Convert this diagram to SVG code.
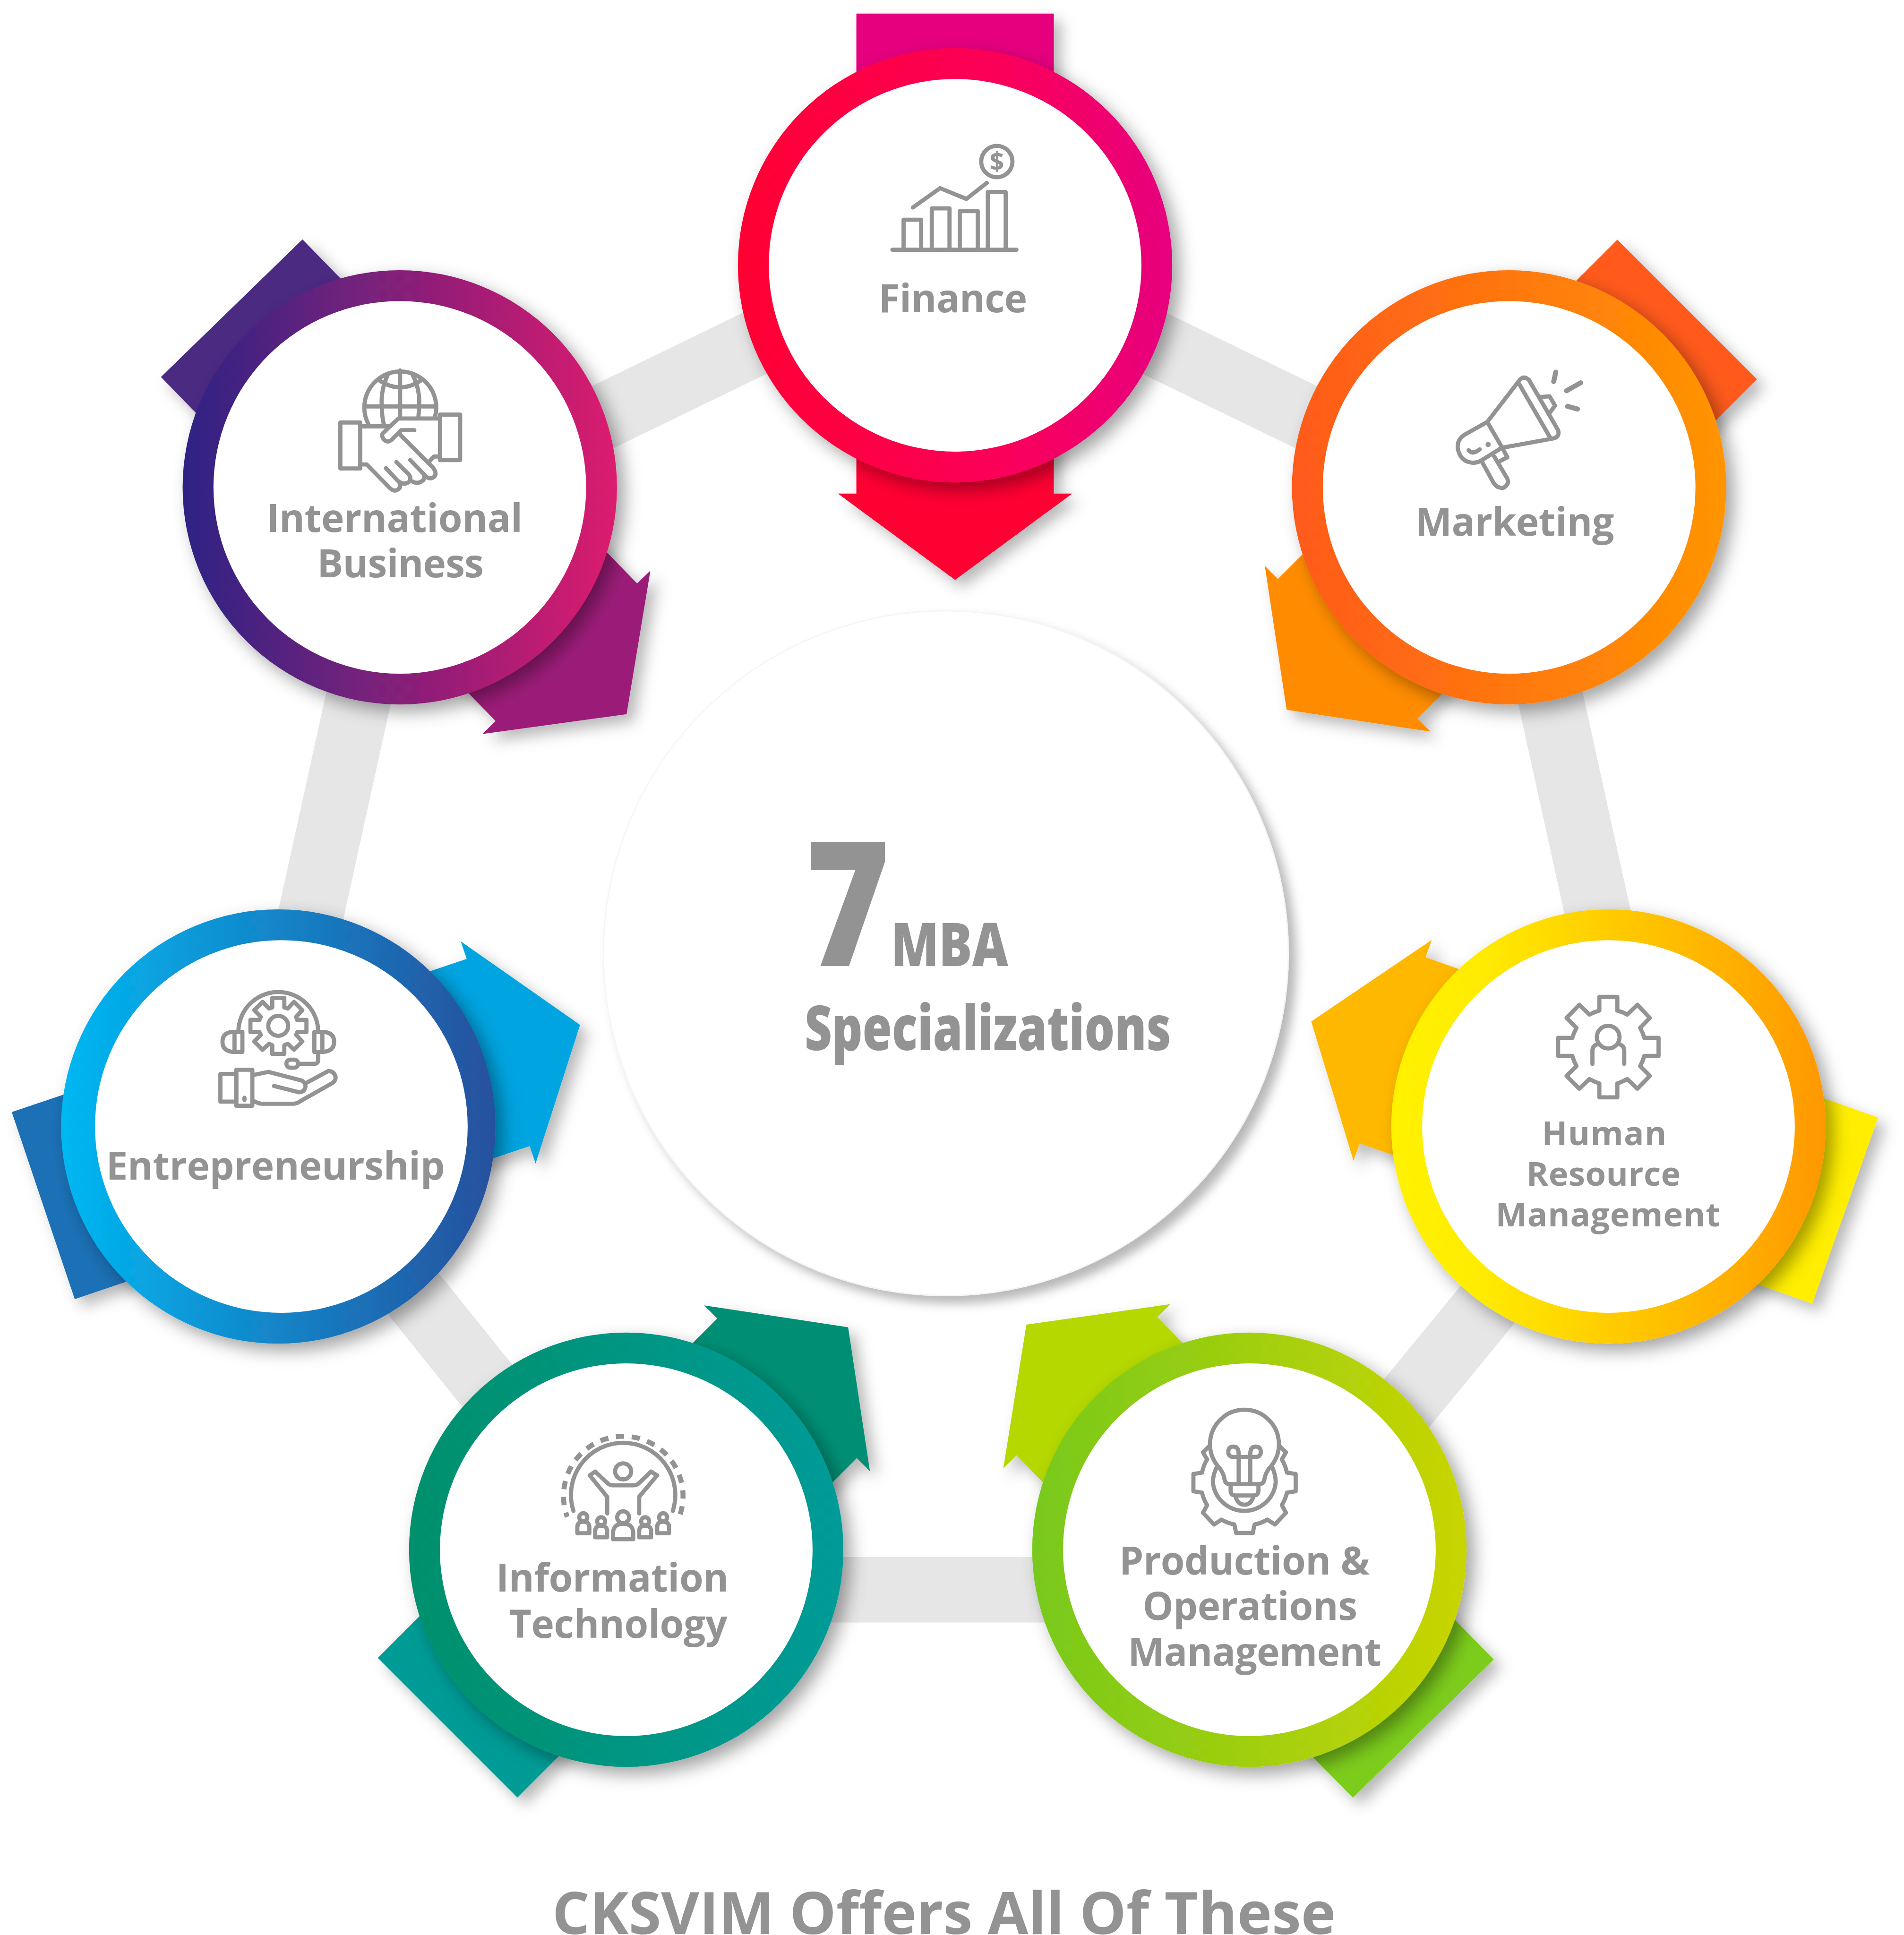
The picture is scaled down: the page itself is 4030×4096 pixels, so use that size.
<svg xmlns="http://www.w3.org/2000/svg" xmlns:xlink="http://www.w3.org/1999/xlink" width="4030" height="4096" viewBox="0 0 4030 4096">
<style>
.t{font-family:"Open Sans","Noto Sans","Liberation Sans",sans-serif;font-weight:700;fill:#939393}
.c{font-family:"Open Sans","Noto Sans","Liberation Sans",sans-serif;font-weight:800;fill:#939393}
.i{fill:none;stroke:#939393;stroke-width:30;stroke-linejoin:round;stroke-linecap:round}
.d{fill:#939393}
.b{stroke:#e6e6e6;stroke-width:53;fill:none}
.w{fill:#fff}
</style>
<defs>
<filter id="sh" x="-20%" y="-20%" width="145%" height="145%"><feDropShadow dx="6" dy="6" stdDeviation="7" flood-color="#000" flood-opacity=".36"/></filter>
<filter id="sa" x="-25%" y="-25%" width="150%" height="150%"><feDropShadow dx="6" dy="6" stdDeviation="6" flood-color="#000" flood-opacity=".28"/></filter>
<filter id="sc" x="-10%" y="-10%" width="125%" height="125%"><feDropShadow dx="6" dy="6" stdDeviation="4" flood-color="#000" flood-opacity=".28"/></filter>
<rect id="tail" x="-80" y="-204" width="160" height="205"/>
<path id="head" d="M-80 0H80V185H95L0 255L-95 185H-80Z"/>
<circle id="ring" r="176"/>
<linearGradient id="g1"><stop offset="0" stop-color="#ff0033"/><stop offset=".6" stop-color="#fb0059"/><stop offset="1" stop-color="#e6007e"/></linearGradient>
<linearGradient id="g2"><stop offset="0" stop-color="#ff5a1b"/><stop offset="1" stop-color="#ff9500"/></linearGradient>
<linearGradient id="g3"><stop offset="0" stop-color="#fff200"/><stop offset=".2" stop-color="#ffec00"/><stop offset="1" stop-color="#ff9800"/></linearGradient>
<linearGradient id="g4"><stop offset="0" stop-color="#78c91c"/><stop offset="1" stop-color="#c9d500"/></linearGradient>
<linearGradient id="g5"><stop offset="0" stop-color="#05906c"/><stop offset="1" stop-color="#009b98"/></linearGradient>
<linearGradient id="g6"><stop offset="0" stop-color="#00b8f2"/><stop offset="1" stop-color="#27509d"/></linearGradient>
<linearGradient id="g7"><stop offset="0" stop-color="#2d2484"/><stop offset="1" stop-color="#dc1b6e"/></linearGradient>
</defs>
<rect width="4030" height="4096" fill="#fff"/>
<g transform="scale(2.6118)">
<g id="connectors">
<path class="b" d="M900 261L1120 368M647 261L427 368M1242 500L1308 800M305 500L239 800M1250 1003L1100 1186M300 1005L447 1188M650 1288.500H870"/>
</g>

<g id="center">
<circle cx="766.500" cy="772.500" r="277.500" fill="#fff" stroke="#f5f5f5" stroke-width="1" filter="url(#sc)"/>
<text class="c" x="653" y="783" font-size="141" textLength="68" lengthAdjust="spacingAndGlyphs">7</text>
<text class="c" x="722" y="783" font-size="49" textLength="95" lengthAdjust="spacingAndGlyphs">MBA</text>
<text class="c" x="652" y="851" font-size="50" textLength="297" lengthAdjust="spacingAndGlyphs">Specializations</text>
</g>

<g id="finance">
<g filter="url(#sa)"><g transform="translate(774 215)"><use href="#tail" fill="#e6007e"/><use href="#head" fill="#ff0033"/></g></g>
<use href="#ring" x="774" y="215" fill="url(#g1)" filter="url(#sh)"/>
<circle class="w" cx="774" cy="215" r="151"/>
<g transform="translate(716.450 107.640) scale(.11212)">
<path class="i" d="M141 845V628H268V845M345 845V546H473V845M547 845V566H677V845M750 845V428H879V845M60 845H957M208 540L405 400L595 478L743 362"/>
<circle class="i" cx="815" cy="208" r="113"/>
<text class="t" x="815" y="273" font-size="185" text-anchor="middle">$</text>
</g>
<text class="t" x="712" y="253" font-size="31.400" textLength="120.500">Finance</text>
</g>

<g id="marketing">
<g filter="url(#sa)"><g transform="translate(1223 395) rotate(45)"><use href="#tail" fill="#ff5a1b"/><use href="#head" fill="#ff8c00"/></g></g>
<use href="#ring" x="1223" y="395" fill="url(#g2)" filter="url(#sh)"/>
<circle class="w" cx="1223" cy="395" r="151"/>
<g transform="translate(1170.550 292.630) scale(.11212)">
<path class="i" d="M310 440L545 135Q575 105 610 135L822 500Q835 550 785 560L425 625M540 165L765 555M315 450L420 630M310 440L150 530Q85 570 98 640Q120 730 205 735Q240 735 265 720L410 630"/>
<path class="i" d="M175 645Q205 680 255 638M270 725L355 880Q385 925 430 915Q470 890 455 850L360 690M425 640L455 695L405 722M690 260L760 255L800 322L760 375"/>
<circle class="d" cx="316" cy="603" r="19"/>
<path class="i" style="stroke-width:36" d="M790 148L805 80M882 215L985 157M890 327L962 347"/>
</g>
<text class="t" x="1147" y="434" font-size="31.400" textLength="161">Marketing</text>
</g>

<g id="human-resource-management">
<g filter="url(#sa)"><g transform="translate(1303 913) rotate(109.500)"><use href="#tail" fill="#ffee00"/><use href="#head" fill="#ffb800"/></g></g>
<use href="#ring" x="1303.500" y="913" fill="url(#g3)" filter="url(#sh)"/>
<circle class="w" cx="1303.500" cy="913" r="151"/>
<g transform="translate(1237.800 787.100) scale(.11212)">
<path class="i" d="M520 186H650V285Q690 295 722 314L795 243L885 338L815 410Q835 445 845 482H948V613H845Q835 650 815 687L885 757L795 850L722 780Q685 800 650 812V912H520V812Q485 800 448 780L375 850L283 757L355 687Q335 650 325 613H222V482H325Q335 445 355 410L283 338L375 243L448 314Q485 295 520 285Z"/>
<circle class="i" cx="584" cy="477" r="82"/>
<path class="i" d="M470 670V575Q470 540 505 528M700 670V575Q700 540 665 528"/>
</g>
<text class="t" x="1249.500" y="928" font-size="27" textLength="101">Human</text>
<text class="t" x="1237" y="961" font-size="27" textLength="125">Resource</text>
<text class="t" x="1212" y="994" font-size="27" textLength="182">Management</text>
</g>

<g id="production-operations-management">
<g filter="url(#sa)"><g transform="translate(1010.500 1255.500) rotate(135.500)"><use href="#tail" fill="#7ccc1a"/><use href="#head" fill="#b5d800"/></g></g>
<use href="#ring" x="1012.500" y="1256" fill="url(#g4)" filter="url(#sh)"/>
<circle class="w" cx="1012.500" cy="1256" r="151"/>
<g transform="translate(941.800 1123.450) scale(.11212)">
<path class="i" d="M398 572A249 249 0 1 1 792 572Q745 620 738 680Q730 708 700 708H490Q460 708 452 680Q445 620 398 572ZM553 708V490Q553 437 515 437Q478 437 478 475Q478 512 515 512H675Q713 512 713 475Q713 437 675 437Q637 437 637 490V708M495 708V755Q495 790 530 790H660Q696 790 696 755V708M530 795Q545 857 595 857Q645 857 660 795M395 585Q367 640 367 695A228 228 0 0 0 821 695Q821 640 795 585"/>
<path class="i" d="M345 430L295 478L325 530Q300 570 288 625L226 635V760L288 770Q300 820 325 860L295 915L375 1000L428 965Q475 990 522 1000L535 1062H655L668 1000Q715 990 760 965L815 1000L895 915L865 860Q890 820 902 770L965 760V635L902 625Q890 570 865 530L895 478L845 430"/>
</g>
<text class="t" x="907" y="1276" font-size="31.400" textLength="203">Production &amp;</text>
<text class="t" x="926" y="1313" font-size="31.400" textLength="174">Operations</text>
<text class="t" x="914" y="1350" font-size="31.400" textLength="205.500">Management</text>
</g>

<g id="information-technology">
<g filter="url(#sa)"><g transform="translate(507 1256) rotate(225)"><use href="#tail" fill="#009b95"/><use href="#head" fill="#048f74"/></g></g>
<use href="#ring" x="507.500" y="1256" fill="url(#g5)" filter="url(#sh)"/>
<circle class="w" cx="507.500" cy="1256" r="151"/>
<g transform="translate(433.900 1143.600) scale(.11212)">
<path class="i" d="M275 722A377 377 0 1 1 993 722M519 740V620L392 465L432 438L525 525Q540 537 560 537H710Q730 537 745 525L835 438L880 465L750 620V740"/>
<path d="M230 765A432 432 0 1 1 1040 765" fill="none" stroke="#939393" stroke-width="36" stroke-dasharray="60 55" stroke-dashoffset="27"/>
<circle class="i" cx="634" cy="436" r="58"/>
<circle class="i" cx="634" cy="768" r="43"/>
<path class="i" d="M561 926V885Q561 815 634 815Q707 815 707 885V926Z"/>
<circle class="i" cx="346" cy="768" r="29"/><path class="i" d="M303 884V840Q303 800 346 800Q390 800 390 840V884Z"/>
<circle class="i" cx="923" cy="768" r="29"/><path class="i" d="M880 884V840Q880 800 923 800Q966 800 966 840V884Z"/>
<circle class="i" cx="475" cy="797" r="29"/><path class="i" d="M432 913V869Q432 829 475 829Q518 829 518 869V913Z"/>
<circle class="i" cx="793" cy="797" r="29"/><path class="i" d="M750 913V869Q750 829 793 829Q836 829 836 869V913Z"/>
</g>
<text class="t" x="402" y="1290" font-size="31.400" textLength="188.500">Information</text>
<text class="t" x="412.500" y="1327.500" font-size="31.400" textLength="177">Technology</text>
</g>

<g id="entrepreneurship">
<g filter="url(#sa)"><g transform="translate(228.400 912) rotate(251.400)"><use href="#tail" fill="#1b6fb5"/><use href="#head" fill="#00a4e0"/></g></g>
<use href="#ring" x="225.500" y="913" fill="url(#g6)" filter="url(#sh)"/>
<circle class="w" cx="228" cy="913" r="151"/>
<g transform="translate(151.360 786) scale(.11212)">
<path class="i" d="M373 449A288 288 0 0 1 950 449"/>
<path class="i" d="M618 203H705V272L730 280L775 232L835 292L790 340L798 362H865V450H798L790 470L835 518L775 578L730 535L705 545V608H618V545L595 535L548 578L488 518L535 470L525 450H460V362H525L535 340L488 292L548 232L595 280L618 272Z"/>
<circle class="i" cx="661" cy="405" r="72"/>
<path class="i" d="M402 449V593H330Q258 585 258 520Q258 455 330 449ZM345 449V593M922 449H990Q1065 455 1065 520Q1065 585 990 593H922ZM980 449V593M950 593V650Q950 680 920 680H810"/>
<rect class="i" x="720" y="650" width="85" height="58" rx="29"/>
<rect class="i" x="243" y="753" width="115" height="200"/>
<rect class="i" x="358" y="722" width="116" height="261"/>
<path class="i" d="M417 925V940M474 762L590 738L830 800Q860 815 858 845Q850 885 810 885L630 840M860 820L1020 733Q1060 730 1075 770Q1080 800 1050 820L820 950Q800 968 770 968H540Q520 968 474 943"/>
</g>
<text class="t" x="86" y="956" font-size="31.400" textLength="274.500">Entrepreneurship</text>
</g>

<g id="international-business">
<g filter="url(#sa)"><g transform="translate(330 396) rotate(315.800)"><use href="#tail" fill="#4b2a82"/><use href="#head" fill="#9b1f78"/></g></g>
<use href="#ring" x="324" y="395" fill="url(#g7)" filter="url(#sh)"/>
<circle class="w" cx="324" cy="395" r="151"/>
<g transform="translate(235.450 282.540) scale(.11212)">
<path class="i" d="M565 550A260 260 0 1 1 1045 490M792 158V490M532 418H1052M705 185Q650 300 660 420Q660 490 675 550M880 185Q940 300 928 420Q928 470 922 505M635 225Q792 335 950 225"/>
<rect class="i" x="360" y="534" width="144" height="332"/>
<rect class="i" x="1080" y="477" width="146" height="329"/>
<path class="i" d="M504 562H720L780 505H1080M895 590H800L735 655Q700 690 670 650Q650 620 680 600L720 560M504 837H550L720 1010Q760 1045 790 1005Q800 975 770 950L690 865M795 625L1030 860Q1060 900 1040 925Q1010 950 980 925L865 805M765 820L850 905Q875 930 860 960Q825 990 790 965M880 960Q920 985 960 950Q975 930 960 905M1080 780H1035L1005 815"/>
</g>
<text class="t" x="216" y="431" font-size="31.400" textLength="207.500">International</text>
<text class="t" x="257" y="468" font-size="31.400" textLength="135">Business</text>
</g>

<text id="caption" class="t" x="447.500" y="1567.500" font-size="47.600" textLength="635">CKSVIM Offers All Of These</text>
</g>
</svg>
